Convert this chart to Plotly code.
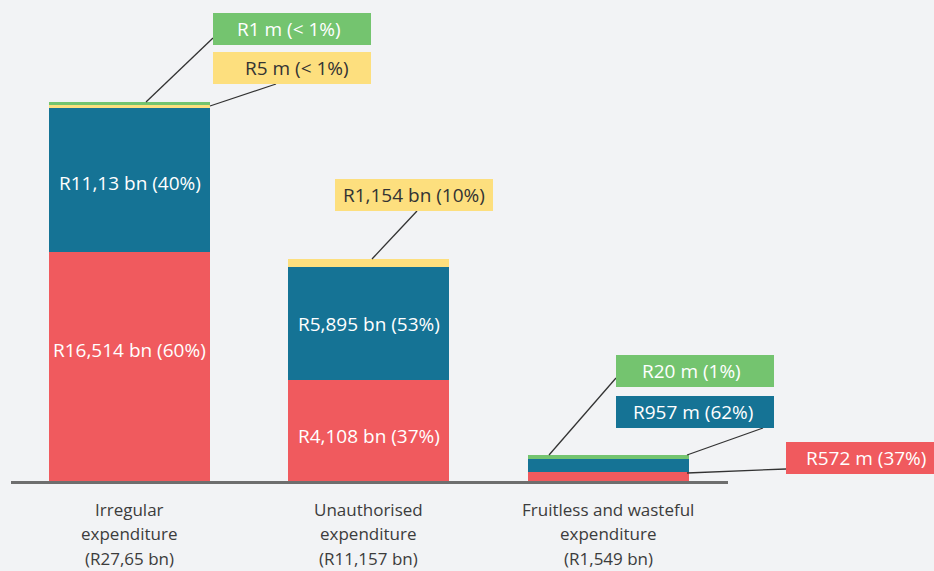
import plotly.graph_objects as go

# ---- data (heights on the chart's own drawn scale) ----
categories = [["Irregular", "expenditure", "(R27,65 bn)"],
              ["Unauthorised", "expenditure", "(R11,157 bn)"],
              ["Fruitless and wasteful", "expenditure", "(R1,549 bn)"]]
red_vals = [229, 101, 9]
blue_vals = [144, 113, 13]
yellow_vals = [3, 8, 0]
green_vals = [3, 0, 4]

red_labels = ["R16,514 bn (60%)", "R4,108 bn (37%)", "R572 m (37%)"]
blue_labels = ["R11,13 bn (40%)", "R5,895 bn (53%)", "R957 m (62%)"]
yellow_labels = ["R5 m (< 1%)", "R1,154 bn (10%)", ""]
green_labels = ["R1 m (< 1%)", "", "R20 m (1%)"]

RED = "#F05A5E"
BLUE = "#157395"
YELLOW = "#FDDF7E"
GREEN = "#74C46F"
BG = "#F2F3F5"
TXT_FONT = "Open Sans"
LBL_SIZE = 19

x = [0, 1, 2]
W, H = 934, 571
ML, MR, MT, MB = 11, 206, 10, 90
PW, PH = W - ML - MR, H - MT - MB

def pxx(v):
    return (v - ML) / PW

def pxy(v):
    return (H - MB - v) / PH

fig = go.Figure()
for vals, col in [(red_vals, RED), (blue_vals, BLUE), (yellow_vals, YELLOW), (green_vals, GREEN)]:
    fig.add_trace(go.Bar(x=x, y=vals, width=0.672, marker=dict(color=col, line=dict(width=0)),
                         hoverinfo="skip", showlegend=False))

annotations = []
shapes = []

# inside labels (fraction of the segment height where the text sits)
red_frac = [0.57, 0.45]
blue_frac = [0.48, 0.5]
for i in range(2):
    annotations.append(dict(x=x[i], y=red_vals[i] * red_frac[i], xref="x", yref="y",
                            text=red_labels[i], showarrow=False,
                            font=dict(family=TXT_FONT, size=LBL_SIZE, color="white")))
    annotations.append(dict(x=x[i], y=red_vals[i] + blue_vals[i] * blue_frac[i], xref="x", yref="y",
                            text=blue_labels[i], showarrow=False,
                            font=dict(family=TXT_FONT, size=LBL_SIZE, color="white")))

# category labels, one annotation per line
for i, lines in enumerate(categories):
    for k, line in enumerate(lines):
        annotations.append(dict(x=x[i], y=0, xref="x", yref="y", yanchor="middle",
                                yshift=-(28 + 24.5 * k),
                                text=line, showarrow=False,
                                font=dict(family=TXT_FONT, size=17, color="#3c3c3c")))

# callout boxes: (x0, y0, x1, y1, text-centre-x, text-centre-y, fill, textcolour, label, leader)
callouts = [
    (213, 13, 371, 45, 289, 29, GREEN, "white", green_labels[0], ((213, 38), (146, 102))),
    (213, 52, 371, 84, 297, 68, YELLOW, "#333333", yellow_labels[0], ((276, 84), (210, 106))),
    (335, 179, 493, 211, 414, 195, YELLOW, "#333333", yellow_labels[1], ((417, 211), (372, 259))),
    (616, 355, 774, 387, 691, 371, GREEN, "white", green_labels[2], ((616, 378), (549, 455))),
    (616, 396, 774, 428, 693, 412, BLUE, "white", blue_labels[2], ((763, 428), (687, 455))),
    (786, 442, 934, 474, 866, 458, RED, "white", red_labels[2], ((786, 469), (687, 473))),
]
for x0, y0, x1, y1, tx, ty, fill, tc, lab, lead in callouts:
    (ax0, ay0), (ax1, ay1) = lead
    shapes.append(dict(type="line", xref="paper", yref="paper",
                       x0=pxx(ax0), y0=pxy(ay0), x1=pxx(ax1), y1=pxy(ay1),
                       line=dict(color="#333333", width=1.3), layer="above"))
    shapes.append(dict(type="rect", xref="paper", yref="paper",
                       x0=pxx(x0), y0=pxy(y1), x1=pxx(x1), y1=pxy(y0),
                       fillcolor=fill, line=dict(width=0), layer="above"))
    annotations.append(dict(x=pxx(tx), y=pxy(ty), xref="paper", yref="paper",
                            text=lab, showarrow=False, xanchor="center", yanchor="middle",
                            font=dict(family=TXT_FONT, size=LBL_SIZE, color=tc)))

fig.update_layout(
    width=W, height=H,
    margin=dict(l=ML, r=MR, t=MT, b=MB),
    paper_bgcolor=BG, plot_bgcolor=BG,
    barmode="stack", bargap=0,
    xaxis=dict(range=[-0.495, 2.5], showgrid=False, zeroline=False, showticklabels=False,
               showline=True, linecolor="#6e6e6e", linewidth=3, fixedrange=True),
    yaxis=dict(range=[0, PH], showgrid=False, zeroline=False, showticklabels=False,
               showline=False, fixedrange=True),
    annotations=annotations, shapes=shapes,
    showlegend=False,
)

fig.write_html("out.html", config={"displayModeBar": False},
               post_script="document.body.style.margin='0';document.body.style.background='%s';" % BG)
